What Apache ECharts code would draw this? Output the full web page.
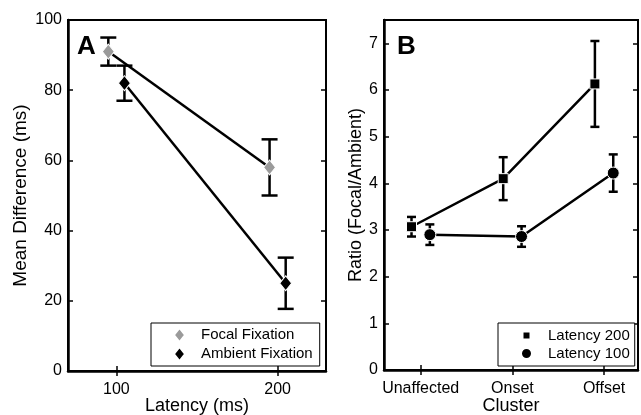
<!DOCTYPE html>
<html>
<head>
<meta charset="utf-8">
<script src="https://cdn.jsdelivr.net/npm/echarts@6/dist/echarts.min.js"></script>
<style>
  html, body { margin: 0; padding: 0; background: #fff; }
  #chart { width: 641px; height: 415px; }
</style>
</head>
<body>
<div id="chart"></div>
<script>
// panel A: latency vs mean difference
const latencies = [100, 200];
const focalMean = [91, 58];
const focalErr = [4, 8];
const ambientMean = [82, 25];
const ambientErr = [5, 7.3];

// panel B: ratio by cluster
const clusters = ['Unaffected', 'Onset', 'Offset'];
const lat200Mean = [3.07, 4.1, 6.13];
const lat200Err = [0.21, 0.46, 0.92];
const lat100Mean = [2.9, 2.86, 4.22];
const lat100Err = [0.22, 0.22, 0.4];

const yTicksA = [0, 20, 40, 60, 80, 100];
const yTicksB = [0, 1, 2, 3, 4, 5, 6, 7];

const FONT = 'Liberation Sans';
const dodgeA = 5;
const dodgeB = 0.1;

const pts = (xs, ys, off) => xs.map((x, i) => [x + off, ys[i]]);
const bars = (xs, ys, es, off) => xs.map((x, i) => [x + off, ys[i] - es[i], ys[i] + es[i]]);

function errorSeries(xi, yi, data, cap) {
    return {
        type: 'custom',
        xAxisIndex: xi,
        yAxisIndex: yi,
        z: 1,
        silent: true,
        data: data,
        renderItem: function (params, api) {
            const top = api.coord([api.value(0), api.value(2)]);
            const bot = api.coord([api.value(0), api.value(1)]);
            const st = { stroke: '#000', lineWidth: 2.5 };
            return {
                type: 'group',
                children: [
                    { type: 'line', shape: { x1: top[0], y1: top[1], x2: bot[0], y2: bot[1] }, style: st },
                    { type: 'line', shape: { x1: top[0] - cap, y1: top[1], x2: top[0] + cap, y2: top[1] }, style: st },
                    { type: 'line', shape: { x1: bot[0] - cap, y1: bot[1], x2: bot[0] + cap, y2: bot[1] }, style: st }
                ]
            };
        }
    };
}

const clusterIdx = clusters.map((c, i) => i + 1);

const tickStyle = { inside: true, length: 5, lineStyle: { color: '#000', width: 1.5 } };
const lineStyleAx = { show: true, lineStyle: { color: '#000', width: 2.5 } };
const labelStyle = { color: '#000', fontFamily: FONT, fontSize: 16 };
const nameStyle = { color: '#000', fontFamily: FONT, fontSize: 18 };

const chart = echarts.init(document.getElementById('chart'));

const option = {
    animation: false,
    backgroundColor: '#fff',
    title: [
        { text: 'A', left: 77, top: 34, padding: 0, textStyle: { fontFamily: FONT, fontSize: 26, fontWeight: 'bold', color: '#000' } },
        { text: 'B', left: 397, top: 34, padding: 0, textStyle: { fontFamily: FONT, fontSize: 26, fontWeight: 'bold', color: '#000' } }
    ],
    grid: [
        { left: 68, top: 20, width: 258, height: 351, outerBoundsMode: 'none', show: true, borderColor: '#000', borderWidth: 2 },
        { left: 384, top: 20, width: 254, height: 350, outerBoundsMode: 'none', show: true, borderColor: '#000', borderWidth: 2 }
    ],
    legend: [
        {
            orient: 'vertical', left: 151, top: 323,
            borderColor: '#000', borderWidth: 1, backgroundColor: '#fff',
            padding: [4, 7, 4, 22], itemGap: 3, itemWidth: 11, itemHeight: 14,
            textStyle: { fontFamily: FONT, fontSize: 15, color: '#000', padding: [0, 0, 0, 11] },
            data: [{ name: 'Focal Fixation', icon: 'diamond' }, { name: 'Ambient Fixation', icon: 'diamond' }]
        },
        {
            orient: 'vertical', left: 498, top: 323,
            borderColor: '#000', borderWidth: 1, backgroundColor: '#fff',
            padding: [5, 5, 5, 22], itemGap: 3, itemWidth: 11, itemHeight: 11,
            textStyle: { fontFamily: FONT, fontSize: 15, color: '#000', padding: [0, 0, 0, 11] },
            data: [
                { name: 'Latency 200', icon: 'path://M1.5,1.5L9.5,1.5L9.5,9.5L1.5,9.5Z M0,0 M11,11' },
                { name: 'Latency 100', icon: 'circle' }
            ]
        }
    ],
    xAxis: [
        {
            type: 'value', gridIndex: 0, min: 70, max: 230,
            name: 'Latency (ms)', nameLocation: 'middle', nameGap: 26, nameMoveOverlap: false, nameTextStyle: nameStyle,
            axisLine: lineStyleAx, splitLine: { show: false },
            axisTick: Object.assign({ customValues: latencies }, tickStyle),
            axisLabel: Object.assign({ customValues: latencies, margin: 11 }, labelStyle)
        },
        {
            type: 'value', gridIndex: 0, min: 70, max: 230, position: 'top',
            axisLine: { show: false }, splitLine: { show: false }, axisLabel: { show: false },
            axisTick: Object.assign({ customValues: latencies }, tickStyle)
        },
        {
            type: 'value', gridIndex: 1, min: 0.6, max: 3.37,
            name: 'Cluster', nameLocation: 'middle', nameGap: 27, nameMoveOverlap: false, nameTextStyle: nameStyle,
            axisLine: lineStyleAx, splitLine: { show: false },
            axisTick: Object.assign({ customValues: clusterIdx }, tickStyle),
            axisLabel: Object.assign({
                customValues: clusterIdx, margin: 11,
                formatter: v => clusters[Math.round(v) - 1] || ''
            }, labelStyle)
        },
        {
            type: 'value', gridIndex: 1, min: 0.6, max: 3.37, position: 'top',
            axisLine: { show: false }, splitLine: { show: false }, axisLabel: { show: false },
            axisTick: Object.assign({ customValues: clusterIdx }, tickStyle)
        }
    ],
    yAxis: [
        {
            type: 'value', gridIndex: 0, min: 0, max: 100,
            name: 'Mean Difference (ms)', nameLocation: 'middle', nameGap: 38, nameMoveOverlap: false,
            nameTextStyle: Object.assign({}, nameStyle, { fontSize: 19 }),
            axisLine: lineStyleAx, splitLine: { show: false },
            axisTick: Object.assign({ customValues: yTicksA }, tickStyle),
            axisLabel: Object.assign({ customValues: yTicksA, margin: 6 }, labelStyle)
        },
        {
            type: 'value', gridIndex: 0, min: 0, max: 100, position: 'right',
            axisLine: { show: false }, splitLine: { show: false }, axisLabel: { show: false },
            axisTick: Object.assign({ customValues: yTicksA }, tickStyle)
        },
        {
            type: 'value', gridIndex: 1, min: 0, max: 7.5,
            name: 'Ratio (Focal/Ambient)', nameLocation: 'middle', nameGap: 19, nameMoveOverlap: false, nameTextStyle: nameStyle,
            axisLine: lineStyleAx, splitLine: { show: false },
            axisTick: Object.assign({ customValues: yTicksB }, tickStyle),
            axisLabel: Object.assign({ customValues: yTicksB, margin: 6 }, labelStyle)
        },
        {
            type: 'value', gridIndex: 1, min: 0, max: 7.5, position: 'right',
            axisLine: { show: false }, splitLine: { show: false }, axisLabel: { show: false },
            axisTick: Object.assign({ customValues: yTicksB }, tickStyle)
        }
    ],
    series: [
        errorSeries(0, 0, bars(latencies, focalMean, focalErr, -dodgeA), 8),
        errorSeries(0, 0, bars(latencies, ambientMean, ambientErr, dodgeA), 8),
        {
            name: 'Focal Fixation', type: 'line', xAxisIndex: 0, yAxisIndex: 0, z: 3,
            data: pts(latencies, focalMean, -dodgeA),
            symbol: 'diamond', symbolSize: [12, 15], showAllSymbol: true,
            itemStyle: { color: '#9a9a9a', borderColor: '#fff', borderWidth: 1 },
            lineStyle: { color: '#000', width: 2.5 }
        },
        {
            name: 'Ambient Fixation', type: 'line', xAxisIndex: 0, yAxisIndex: 0, z: 3,
            data: pts(latencies, ambientMean, dodgeA),
            symbol: 'diamond', symbolSize: [12, 15], showAllSymbol: true,
            itemStyle: { color: '#000', borderColor: '#fff', borderWidth: 1 },
            lineStyle: { color: '#000', width: 2.5 }
        },
        errorSeries(2, 2, bars(clusterIdx, lat200Mean, lat200Err, -dodgeB), 4.5),
        errorSeries(2, 2, bars(clusterIdx, lat100Mean, lat100Err, dodgeB), 4.5),
        {
            name: 'Latency 200', type: 'line', xAxisIndex: 2, yAxisIndex: 2, z: 3,
            data: pts(clusterIdx, lat200Mean, -dodgeB),
            symbol: 'rect', symbolSize: 10, showAllSymbol: true,
            itemStyle: { color: '#000', borderColor: '#fff', borderWidth: 1 },
            lineStyle: { color: '#000', width: 2.5 }
        },
        {
            name: 'Latency 100', type: 'line', xAxisIndex: 2, yAxisIndex: 2, z: 3,
            data: pts(clusterIdx, lat100Mean, dodgeB),
            symbol: 'circle', symbolSize: 12, showAllSymbol: true,
            itemStyle: { color: '#000', borderColor: '#fff', borderWidth: 1 },
            lineStyle: { color: '#000', width: 2.5 }
        }
    ]
};

chart.setOption(option);
</script>
</body>
</html>
